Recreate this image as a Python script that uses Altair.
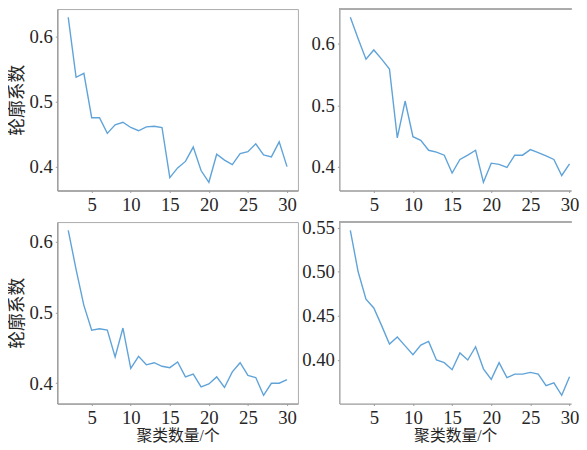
import altair as alt
import pandas as pd

k = list(range(2, 31))

s1 = [0.629, 0.537, 0.543, 0.475, 0.475, 0.451, 0.464, 0.468, 0.460, 0.455,
      0.461, 0.462, 0.460, 0.383, 0.398, 0.408, 0.430, 0.394, 0.376, 0.419,
      0.410, 0.403, 0.420, 0.423, 0.435, 0.418, 0.415, 0.438, 0.400]
s2 = [0.643, 0.608, 0.575, 0.590, 0.575, 0.559, 0.447, 0.507, 0.449, 0.443,
      0.427, 0.424, 0.419, 0.390, 0.412, 0.419, 0.427, 0.375, 0.406, 0.404,
      0.399, 0.419, 0.419, 0.428, 0.423, 0.418, 0.412, 0.386, 0.405]
s3 = [0.616, 0.561, 0.510, 0.475, 0.477, 0.475, 0.437, 0.478, 0.421, 0.438,
      0.426, 0.429, 0.424, 0.422, 0.430, 0.409, 0.413, 0.395, 0.399, 0.409,
      0.394, 0.416, 0.429, 0.411, 0.408, 0.383, 0.400, 0.400, 0.405]
s4 = [0.547, 0.500, 0.469, 0.459, 0.439, 0.418, 0.426, 0.416, 0.406, 0.417,
      0.421, 0.400, 0.397, 0.389, 0.408, 0.400, 0.415, 0.390, 0.378, 0.397,
      0.380, 0.384, 0.384, 0.386, 0.384, 0.371, 0.374, 0.360, 0.381]

x_ticks = [5, 10, 15, 20, 25, 30]
y_title = "轮廓系数"
x_title = "聚类数量/个"

FONT = "Liberation Serif, Noto Sans CJK SC"
LINE = "#5fa3d9"
FRAME = "#ababab"
H = 184


def panel(vals, yticks, yfmt, show_ytitle, show_xtitle, w, xmax, right_frame):
    df = pd.DataFrame({"k": k, "s": vals})
    lo, hi = min(vals), max(vals)
    m = (hi - lo) * 0.05
    line = alt.Chart(df).mark_line(color=LINE, strokeWidth=1.4).encode(
        x=alt.X("k:Q",
                scale=alt.Scale(domain=[0.6, xmax], nice=False, zero=False),
                axis=alt.Axis(values=x_ticks, format="d",
                              title=x_title if show_xtitle else None)),
        y=alt.Y("s:Q",
                scale=alt.Scale(domain=[lo - m, hi + m], nice=False, zero=False),
                axis=alt.Axis(values=yticks, format=yfmt,
                              title=y_title if show_ytitle else None)),
    )
    if right_frame:
        return line.properties(width=w, height=H)
    top = alt.Chart(df).mark_rule(color=FRAME, strokeWidth=1).encode(
        x=alt.value(0), x2=alt.value(w), y=alt.value(0))
    return alt.layer(line, top).properties(
        width=w, height=H, view=alt.ViewBackground(stroke=None))


p1 = panel(s1, [0.4, 0.5, 0.6], ".1f", True, False, 244, 31.4, True)
p2 = panel(s2, [0.4, 0.5, 0.6], ".1f", False, False, 235, 30.2, False)
p3 = panel(s3, [0.4, 0.5, 0.6], ".1f", True, True, 244, 31.4, True)
p4 = panel(s4, [0.40, 0.45, 0.50, 0.55], ".2f", False, True, 235, 30.2, False)

chart = alt.concat(p1, p2, p3, p4, columns=2, bounds="flush",
                   spacing={"row": 32, "column": 42}).properties(
    padding={"left": -1, "top": -3, "right": 0, "bottom": 0},
).configure_view(
    stroke=FRAME, strokeWidth=1
).configure_axis(
    grid=False,
    domainColor="#9a9a9a", domainWidth=1.3,
    tickColor="#9a9a9a", tickSize=2,
    labelFont=FONT, labelFontSize=19, labelColor="#262626", labelPadding=3,
    titleFont=FONT, titleColor="#262626",
    titleFontWeight="normal",
).configure_axisX(
    labelPadding=3, titlePadding=0, titleFontSize=16,
).configure_axisY(
    titlePadding=3, titleFontSize=18,
)

chart.save("out.html", embed_options={"renderer": "svg", "actions": False})
